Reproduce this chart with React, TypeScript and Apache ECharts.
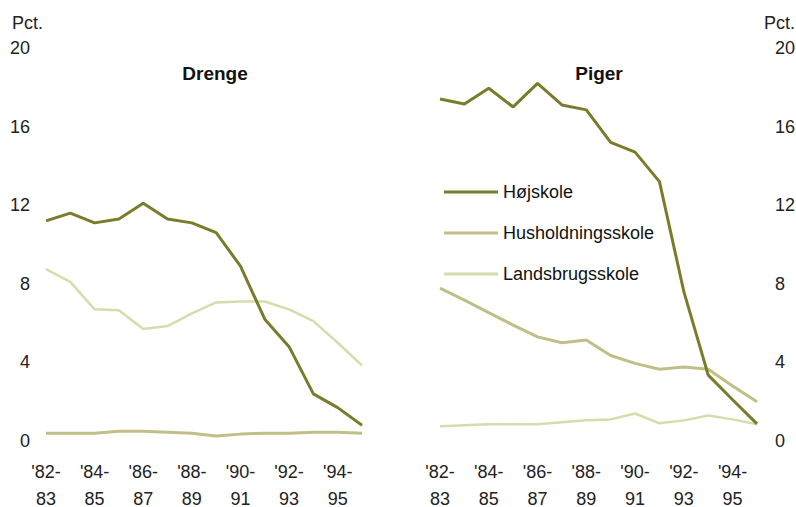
import React, { useEffect, useRef } from "react";
import * as echarts from "echarts";

const categories = [
  "'82-83", "'83-84", "'84-85", "'85-86", "'86-87", "'87-88", "'88-89",
  "'89-90", "'90-91", "'91-92", "'92-93", "'93-94", "'94-95", "'95-96",
];

const boysHojskole = [11.2, 11.6, 11.1, 11.3, 12.1, 11.3, 11.1, 10.6, 8.9, 6.2, 4.8, 2.4, 1.7, 0.8];
const boysLandsbrug = [8.75, 8.1, 6.7, 6.65, 5.7, 5.85, 6.5, 7.05, 7.1, 7.1, 6.7, 6.1, 5.0, 3.85];
const boysHusholdning = [0.4, 0.4, 0.4, 0.5, 0.5, 0.45, 0.4, 0.25, 0.35, 0.4, 0.4, 0.45, 0.45, 0.4];

const girlsHojskole = [17.4, 17.15, 17.95, 17.0, 18.2, 17.1, 16.85, 15.2, 14.7, 13.2, 7.6, 3.35, 2.1, 0.87];
const girlsHusholdning = [7.78, 7.17, 6.53, 5.9, 5.3, 5.0, 5.14, 4.35, 3.95, 3.65, 3.77, 3.65, 2.8, 2.0];
const girlsLandsbrug = [0.75, 0.8, 0.85, 0.85, 0.85, 0.95, 1.05, 1.1, 1.4, 0.9, 1.05, 1.3, 1.1, 0.85];

const yTicks = [0, 4, 8, 12, 16, 20];
const seriesNames = ["Højskole", "Husholdningsskole", "Landsbrugsskole"];
const panelTitles = ["Drenge", "Piger"];

const COLORS: Record<string, string> = {
  "Højskole": "#7b7b2c",
  "Husholdningsskole": "#c2bf86",
  "Landsbrugsskole": "#d6dcab",
};

const FONT = "'Liberation Sans', Arial, Helvetica, sans-serif";

export default function App() {
  const ref = useRef<HTMLDivElement>(null);

  useEffect(() => {
    if (!ref.current) return;
    const chart = echarts.init(ref.current, undefined, { renderer: "svg" });

    const xAxisBase = (gridIndex: number) => ({
      type: "category" as const,
      gridIndex,
      data: categories,
      boundaryGap: false,
      axisLine: { show: false },
      axisTick: { show: false },
      splitLine: { show: false },
      axisLabel: {
        interval: 1,
        margin: 17,
        fontSize: 18,
        lineHeight: 27,
        color: "#222",
        fontFamily: FONT,
        formatter: (s: string) => s.slice(0, 4) + "\n" + s.slice(4),
      },
    });

    const yAxisBase = (gridIndex: number, position: "left" | "right") => ({
      type: "value" as const,
      gridIndex,
      position,
      min: yTicks[0],
      max: yTicks[yTicks.length - 1],
      interval: 4,
      axisLine: { show: false },
      axisTick: { show: false },
      splitLine: { show: false },
      axisLabel: {
        margin: position === "left" ? 16 : 18,
        fontSize: 18,
        color: "#222",
        fontFamily: FONT,
      },
    });

    const mkSeries = (name: string, data: number[], idx: number, width: number) => ({
      type: "line" as const,
      name,
      data,
      xAxisIndex: idx,
      yAxisIndex: idx,
      symbol: "none",
      lineStyle: { color: COLORS[name], width },
      itemStyle: { color: COLORS[name] },
    });

    chart.setOption({
      animation: false,
      backgroundColor: "#ffffff",
      title: [
        {
          text: panelTitles[0],
          left: 210,
          top: 59,
          textAlign: "center",
          textStyle: { fontSize: 19, fontWeight: "bold", color: "#111", fontFamily: FONT },
        },
        {
          text: panelTitles[1],
          left: 594,
          top: 59,
          textAlign: "center",
          textStyle: { fontSize: 19, fontWeight: "bold", color: "#111", fontFamily: FONT },
        },
      ],
      legend: {
        data: seriesNames,
        orient: "vertical",
        left: 439,
        top: 177,
        icon: "rect",
        itemWidth: 54,
        itemHeight: 3,
        itemGap: 21,
        textStyle: { fontSize: 18, lineHeight: 20, color: "#111", fontFamily: FONT },
      },
      graphic: [
        { type: "text", left: 12, top: 14, style: { text: "Pct.", fontSize: 18, fill: "#222", fontFamily: FONT } },
        { type: "text", left: 764, top: 14, style: { text: "Pct.", fontSize: 18, fill: "#222", fontFamily: FONT } },
      ],
      grid: [
        { left: 46, right: 434, top: 48, bottom: 66, containLabel: false, outerBoundsMode: "none" },
        { left: 440, right: 39, top: 48, bottom: 66, containLabel: false, outerBoundsMode: "none" },
      ],
      xAxis: [xAxisBase(0), xAxisBase(1)],
      yAxis: [yAxisBase(0, "left"), yAxisBase(1, "right")],
      series: [
        mkSeries("Husholdningsskole", boysHusholdning, 0, 3),
        mkSeries("Landsbrugsskole", boysLandsbrug, 0, 2.5),
        mkSeries("Højskole", boysHojskole, 0, 3),
        mkSeries("Landsbrugsskole", girlsLandsbrug, 1, 2.5),
        mkSeries("Husholdningsskole", girlsHusholdning, 1, 3),
        mkSeries("Højskole", girlsHojskole, 1, 3),
      ],
    });

    return () => chart.dispose();
  }, []);

  return <div ref={ref} style={{ width: 796, height: 507, position: "absolute", left: 0, top: 0 }} />;
}
